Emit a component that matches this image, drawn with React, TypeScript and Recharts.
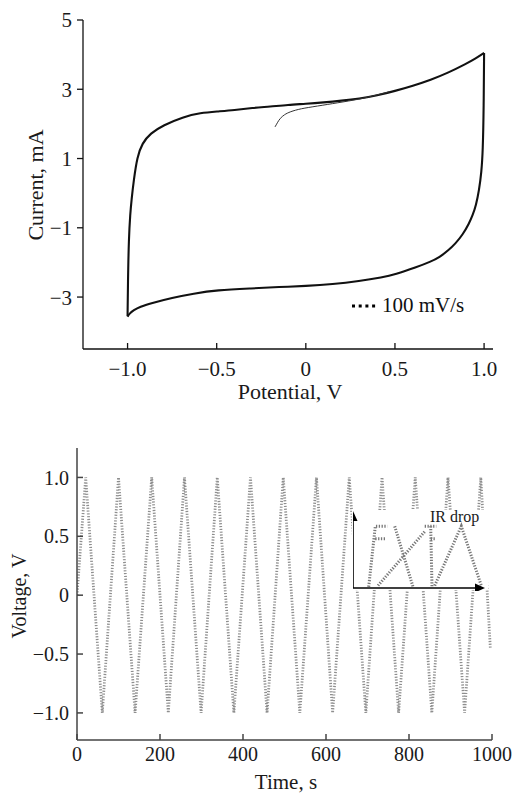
import React from 'react';
import { LineChart, Line, XAxis, YAxis, Legend, Label, ReferenceLine } from 'recharts';

const SERIF = '"Liberation Serif", "DejaVu Serif", serif';

// CV at 100 mV/s: forward sweep -1.0 -> 1.0 V
const cvFwdV = [-1.0, -0.998, -0.993, -0.985, -0.978, -0.965, -0.946, -0.918, -0.872, -0.8, -0.69, -0.59, -0.5, -0.4, -0.3, -0.2, -0.1, 0, 0.1, 0.2, 0.3, 0.4, 0.5, 0.6, 0.7, 0.8, 0.9, 0.95, 1.0];
const cvFwdI = [-3.55, -2.6, -1.3, -0.6, -0.2, 0.38, 1.05, 1.44, 1.73, 1.96, 2.2, 2.32, 2.36, 2.4, 2.46, 2.5, 2.55, 2.58, 2.62, 2.67, 2.73, 2.82, 2.95, 3.1, 3.27, 3.48, 3.74, 3.88, 4.05];
// reverse sweep 1.0 -> -1.0 V
const cvRevV = [1.0, 0.998, 0.993, 0.985, 0.972, 0.955, 0.935, 0.916, 0.88, 0.84, 0.8, 0.75, 0.7, 0.62, 0.5, 0.43, 0.3, 0.15, 0, -0.15, -0.3, -0.5, -0.63, -0.75, -0.87, -0.93, -0.966, -0.99, -1.0];
const cvRevI = [4.05, 2.5, 1.2, 0.6, 0.09, -0.35, -0.65, -0.87, -1.2, -1.45, -1.65, -1.85, -1.98, -2.14, -2.35, -2.43, -2.54, -2.63, -2.68, -2.71, -2.75, -2.8, -2.9, -3.02, -3.18, -3.28, -3.38, -3.48, -3.57];
// first (start-up) sweep from open circuit
const cvFirstV = [-0.173, -0.16, -0.145, -0.12, -0.089, -0.03, 0.06, 0.179, 0.3, 0.395, 0.47];
const cvFirstI = [1.91, 2.03, 2.16, 2.27, 2.35, 2.44, 2.51, 2.61, 2.71, 2.83, 2.93];

const cvTicksX = [-1, -0.5, 0, 0.5, 1];
const cvTicksY = [5, 3, 1, -1, -3];

// charge/discharge vertices
const gcdTime = [0, 21, 61, 100, 140, 180, 220, 259, 299, 338, 378, 418, 458, 497, 537, 577, 616, 656, 696, 735, 775, 815, 855, 894, 934, 973, 996];
const gcdVolt = [0, 1, -1, 1, -1, 1, -1, 1, -1, 1, -1, 1, -1, 1, -1, 1, -1, 1, -1, 1, -1, 1, -1, 1, -1, 1, -0.45];
const gcdTicksX = [0, 200, 400, 600, 800, 1000];
const gcdTicksY = [1, 0.5, 0, -0.5, -1];

// inset sketch (arbitrary units), null = pen up
const insetAx = [1.57, 2.23, 3.43, 3.43, 2.23, 3.33];
const insetAy = [0.02, 1.03, 1.03, null, 0.82, 0.82];
const insetBx = [4.17, 6.0];
const insetBy = [1.03, 0.02];
const insetCx = [2.5, 7.17, 7.17, 7.17, 8.33, 8.33, 7.77, 7.9, 7.9, 7.77, 8.33];
const insetCy = [0.04, 0.94, null, 1.03, 1.03, null, 1.03, 0.02, null, 0.82, 0.82];
const insetDx = [8.17, 10.83, 12.83];
const insetDy = [0.04, 1.03, 0.04];

const zip = (xs: number[], ys: (number | null)[]) => xs.map((x, i) => ({ x, y: ys[i] }));
const cvFwd = zip(cvFwdV, cvFwdI);
const cvRev = zip(cvRevV, cvRevI);
const cvFirst = zip(cvFirstV, cvFirstI);
const gcd = zip(gcdTime, gcdVolt);

const fmt = (d: number) => (v: number) => (v === 0 ? '0' : (v < 0 ? '\u2212' : '') + Math.abs(v).toFixed(d));

const tickStyle = (size: number) => ({ fill: '#1a1a1a', fontSize: size, fontFamily: SERIF });
const axisStroke = { stroke: '#111', strokeWidth: 1.3 };
const frameStroke = { stroke: '#444', strokeWidth: 1.5 };
const dotted = { stroke: '#8e8e8e', strokeWidth: 2.8, strokeDasharray: '1.2 1.6' };
const insetDotted = { stroke: '#777', strokeWidth: 3, strokeDasharray: '1.3 1.5' };

const CvLegend = ({ payload }: any) => (
  <div style={{ fontFamily: SERIF, fontSize: 21, color: '#111', display: 'flex', alignItems: 'center', whiteSpace: 'nowrap' }}>
    {(payload || []).filter((p: any) => p.value === '100 mV/s').map((p: any) => (
      <span key={p.value} style={{ display: 'flex', alignItems: 'center' }}>
        <svg width={24} height={10}>
          <line x1={0} y1={5} x2={24} y2={5} stroke="#000" strokeWidth={3} strokeDasharray="3 3.7" />
        </svg>
        <span style={{ marginLeft: 6 }}>{p.value}</span>
      </span>
    ))}
  </div>
);

// arrowheads at the far end of the inset axes
const ArrowX = ({ viewBox }: any) => {
  const { x, y, width } = viewBox;
  const ex = x + width;
  return <path d={`M${ex + 2},${y} L${ex - 8},${y - 4.5} L${ex - 8},${y + 4.5} Z`} fill="#000" />;
};
const ArrowY = ({ viewBox }: any) => {
  const { x, y } = viewBox;
  return <path d={`M${x},${y - 2} L${x - 4.5},${y + 8} L${x + 4.5},${y + 8} Z`} fill="#000" />;
};

const lineProps = { dot: false, activeDot: false, isAnimationActive: false } as const;

export default function App() {
  return (
    <div style={{ position: 'absolute', left: 0, top: 0, width: 514, height: 796, background: '#fff' }}>
      <div style={{ position: 'absolute', left: 0, top: 0 }}>
        <LineChart width={514} height={410} margin={{ top: 20, right: 21, bottom: 10, left: 0 }}>
          <XAxis type="number" dataKey="x" domain={[-1.25, 1.05]} allowDataOverflow ticks={cvTicksX} interval={0}
            tickFormatter={fmt(1)} height={51} tickSize={-6} tickMargin={18}
            axisLine={axisStroke} tickLine={axisStroke} tick={tickStyle(21)}>
            <Label content={() => (
              <text x={290} y={399} textAnchor="middle" fontFamily={SERIF} fontSize={22} fill="#1a1a1a">Potential, V</text>
            )} />
          </XAxis>
          <YAxis type="number" domain={[-4.5, 5]} allowDataOverflow ticks={cvTicksY} interval={0}
            tickFormatter={fmt(0)} width={83} tickSize={6} tickMargin={5}
            axisLine={axisStroke} tickLine={axisStroke} tick={tickStyle(21)}>
            <Label content={() => (
              <text transform="rotate(-90)" x={-185} y={43} textAnchor="middle" fontFamily={SERIF} fontSize={22} fill="#1a1a1a">Current, mA</text>
            )} />
          </YAxis>
          <Legend layout="horizontal" verticalAlign="middle" align="center" width={140}
            wrapperStyle={{ left: 352, top: 293 }} content={<CvLegend />} />
          <Line name="100 mV/s" data={cvFwd} dataKey="y" type="basis" stroke="#111" strokeWidth={2.1} {...lineProps} />
          <Line name="reverse" data={cvRev} dataKey="y" type="basis" stroke="#111" strokeWidth={2.1} legendType="none" {...lineProps} />
          <Line name="first" data={cvFirst} dataKey="y" type="basis" stroke="#333" strokeWidth={1} legendType="none" {...lineProps} />
        </LineChart>
      </div>

      <div style={{ position: 'absolute', left: 0, top: 400 }}>
        <LineChart width={514} height={396} margin={{ top: 48, right: 22, bottom: 26, left: 0 }}>
          <XAxis type="number" dataKey="x" domain={[0, 1000]} allowDataOverflow ticks={gcdTicksX} interval={0}
            height={30} tickSize={-6} tickMargin={13}
            axisLine={frameStroke} tickLine={frameStroke} tick={tickStyle(20)}>
            <Label content={() => (
              <text x={286} y={389} textAnchor="middle" fontFamily={SERIF} fontSize={21} fill="#1a1a1a">Time, s</text>
            )} />
          </XAxis>
          <XAxis xAxisId="top" orientation="top" type="number" domain={[0, 1000]} height={0}
            tick={false} tickLine={false} axisLine={frameStroke} />
          <YAxis type="number" domain={[-1.23, 1.25]} allowDataOverflow ticks={gcdTicksY} interval={0}
            tickFormatter={fmt(1)} width={77} tickSize={-6} tickMargin={14}
            axisLine={frameStroke} tickLine={frameStroke} tick={tickStyle(20)}>
            <Label content={() => (
              <text transform="rotate(-90)" x={-196} y={26} textAnchor="middle" fontFamily={SERIF} fontSize={20} fill="#1a1a1a">Voltage, V</text>
            )} />
          </YAxis>
          <YAxis yAxisId="right" orientation="right" type="number" domain={[-1.23, 1.25]} width={0}
            tick={false} tickLine={false} axisLine={frameStroke} />
          <Line data={gcd} dataKey="y" type="linear" {...dotted} {...lineProps} />
        </LineChart>
      </div>

      <div style={{ position: 'absolute', left: 352, top: 510, width: 136, height: 80, background: '#fff' }} />
      <div style={{ position: 'absolute', left: 353, top: 506 }}>
        <LineChart width={137} height={85} margin={{ top: 7, right: 7, bottom: 3, left: 0 }}>
          <XAxis type="number" dataKey="x" domain={[0, 13]} hide />
          <YAxis type="number" domain={[0, 1.25]} hide />
          <Line data={zip(insetAx, insetAy)} dataKey="y" {...insetDotted} {...lineProps} />
          <Line data={zip(insetBx, insetBy)} dataKey="y" {...insetDotted} {...lineProps} />
          <Line data={zip(insetCx, insetCy)} dataKey="y" {...insetDotted} {...lineProps} />
          <Line data={zip(insetDx, insetDy)} dataKey="y" {...insetDotted} {...lineProps} />
          <ReferenceLine y={0} stroke="#000" strokeWidth={1.6} label={<ArrowX />} />
          <ReferenceLine x={0} stroke="#000" strokeWidth={1.6} label={<ArrowY />} />
        </LineChart>
      </div>
      <div style={{ position: 'absolute', left: 430, top: 509, fontFamily: SERIF, fontSize: 16, lineHeight: 1, color: '#1a1a1a' }}>IR drop</div>
    </div>
  );
}
